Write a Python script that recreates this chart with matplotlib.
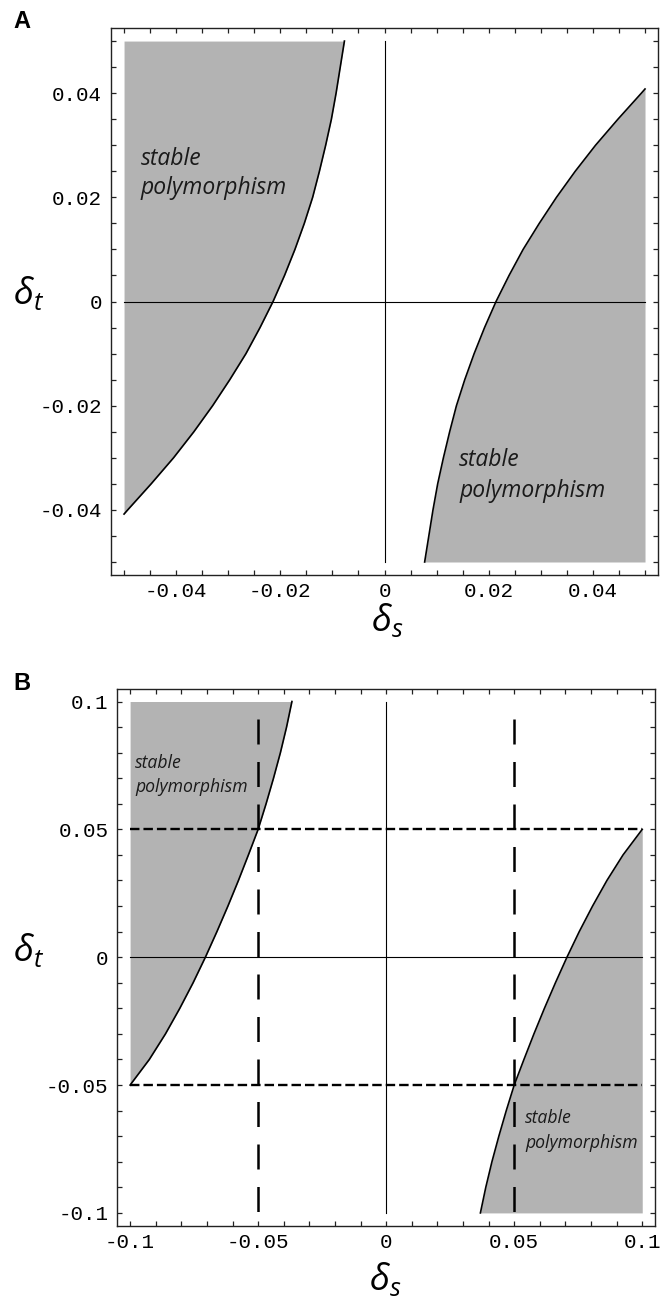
import matplotlib.pyplot as plt
import numpy as np

plt.rcParams['mathtext.fontset'] = 'custom'
plt.rcParams['mathtext.it'] = 'Open Sans:italic'
plt.rcParams['mathtext.rm'] = 'Open Sans'

# panel A: boundary of the stable region (left and right branch)
a_left_y = [-0.0408, -0.040, -0.035, -0.030, -0.025, -0.020, -0.015, -0.010, -0.005, 0.000,
            0.005, 0.010, 0.015, 0.020, 0.025, 0.030, 0.035, 0.040, 0.045, 0.050]
a_left_x = [-0.0500, -0.0493, -0.0448, -0.0405, -0.0366, -0.0330, -0.0297, -0.0266, -0.0239, -0.0214,
            -0.0192, -0.0172, -0.0154, -0.0138, -0.0125, -0.0113, -0.0102, -0.0093, -0.0085, -0.0077]
a_right_y = [-0.050, -0.045, -0.040, -0.035, -0.030, -0.025, -0.020, -0.015, -0.010, -0.005,
             0.000, 0.005, 0.010, 0.015, 0.020, 0.025, 0.030, 0.035, 0.040, 0.0408]
a_right_x = [0.0077, 0.0085, 0.0093, 0.0102, 0.0113, 0.0125, 0.0138, 0.0154, 0.0172, 0.0192,
             0.0214, 0.0239, 0.0266, 0.0297, 0.0330, 0.0366, 0.0405, 0.0448, 0.0493, 0.0500]

# panel B
b_left_y = [-0.05, -0.04, -0.03, -0.02, -0.01, 0.00, 0.01, 0.02, 0.03, 0.04, 0.05, 0.06, 0.07, 0.08, 0.09, 0.10]
b_left_x = [-0.1000, -0.0925, -0.0862, -0.0806, -0.0754, -0.0706, -0.0661, -0.0618, -0.0577, -0.0538,
            -0.0500, -0.0469, -0.0440, -0.0413, -0.0389, -0.0368]
b_right_y = [-0.10, -0.09, -0.08, -0.07, -0.06, -0.05, -0.04, -0.03, -0.02, -0.01, 0.00, 0.01, 0.02, 0.03, 0.04, 0.05]
b_right_x = [0.0368, 0.0389, 0.0413, 0.0440, 0.0469, 0.0500, 0.0538, 0.0577, 0.0618, 0.0661,
             0.0706, 0.0754, 0.0806, 0.0862, 0.0925, 0.1000]

a_ticks = [-0.04, -0.02, 0, 0.02, 0.04]
a_labels = ['-0.04', '-0.02', '0', '0.02', '0.04']
b_ticks = [-0.1, -0.05, 0, 0.05, 0.1]
b_labels = ['-0.1', '-0.05', '0', '0.05', '0.1']
b_dash = [-0.05, 0.05]

gray = '#b3b3b3'
mono = 'Liberation Mono'
note_font = dict(family='Open Sans', style='italic', color='#1a1a1a')


def style_axes(ax, lim, ticks, labels, minor):
    ax.set_xlim(-lim, lim)
    ax.set_ylim(-lim, lim)
    ax.set_xticks(ticks, labels, fontfamily=mono, fontsize=15)
    ax.set_yticks(ticks, labels, fontfamily=mono, fontsize=15)
    ax.xaxis.set_minor_locator(plt.MultipleLocator(minor))
    ax.yaxis.set_minor_locator(plt.MultipleLocator(minor))
    ax.tick_params(which='both', direction='in', length=3.5, width=0.9,
                   top=True, right=True, color='#222222')
    ax.tick_params(axis='y', pad=6.5)
    ax.tick_params(axis='x', pad=5)
    for sp in ax.spines.values():
        sp.set_linewidth(1.0)
        sp.set_color('#222222')


fig = plt.figure(figsize=(6.68, 12.98), dpi=100)

# ---------------- A ----------------
axA = fig.add_axes([0.1662, 0.5570, 0.8189, 0.4214])
axA.fill_betweenx(a_left_y, -0.05, a_left_x, color=gray, lw=0)
axA.fill_betweenx(a_right_y, a_right_x, 0.05, color=gray, lw=0)
axA.plot(a_left_x, a_left_y, color='black', lw=1.2)
axA.plot(a_right_x, a_right_y, color='black', lw=1.2)
axA.plot([-0.05, 0.05], [0, 0], color='black', lw=0.8)
axA.plot([0, 0], [-0.05, 0.05], color='black', lw=0.8)
style_axes(axA, 0.0525, a_ticks, a_labels, 0.005)
axA.text(-0.0468, 0.0262, 'stable', fontsize=16.5, **note_font)
axA.text(-0.0468, 0.0206, 'polymorphism', fontsize=16.5, **note_font)
axA.text(0.0143, -0.0315, 'stable', fontsize=16.5, **note_font)
axA.text(0.0143, -0.0375, 'polymorphism', fontsize=16.5, **note_font)
axA.set_xlabel(r'$\delta_s$', fontsize=26)
axA.set_ylabel(r'$\delta_t$', fontsize=26, rotation=0, ha='left', va='center')
axA.xaxis.set_label_coords(0.5046, -0.082)
axA.yaxis.set_label_coords(-0.179, 0.5155)
axA.xaxis.label.set_va('center')

# ---------------- B ----------------
axB = fig.add_axes([0.1756, 0.0557, 0.8050, 0.4137])
axB.fill_betweenx(b_left_y, -0.1, b_left_x, color=gray, lw=0)
axB.fill_betweenx(b_right_y, b_right_x, 0.1, color=gray, lw=0)
axB.plot(b_left_x, b_left_y, color='black', lw=1.2)
axB.plot(b_right_x, b_right_y, color='black', lw=1.2)
axB.plot([-0.1, 0.1], [0, 0], color='black', lw=0.8)
axB.plot([0, 0], [-0.1, 0.1], color='black', lw=0.8)
for v in b_dash:
    axB.plot([-0.1, 0.1], [v, v], color='black', lw=1.7, linestyle=(0, (4, 1.7)))
    axB.plot([v, v], [0.093, -0.1], color='black', lw=1.8, linestyle=(0, (10, 7)))
style_axes(axB, 0.105, b_ticks, b_labels, 0.01)
axB.text(-0.098, 0.0739, 'stable', fontsize=12.7, **note_font)
axB.text(-0.098, 0.0646, 'polymorphism', fontsize=12.7, **note_font)
axB.text(0.0543, -0.0648, 'stable', fontsize=12.7, **note_font)
axB.text(0.0543, -0.0746, 'polymorphism', fontsize=12.7, **note_font)
axB.set_xlabel(r'$\delta_s$', fontsize=26)
axB.set_ylabel(r'$\delta_t$', fontsize=26, rotation=0, ha='left', va='center')
axB.xaxis.set_label_coords(0.498, -0.099)
axB.yaxis.set_label_coords(-0.194, 0.513)
axB.xaxis.label.set_va('center')

fig.text(13 / 668, 1 - 10 / 1298, 'A', fontsize=17, fontweight='bold',
         family='Liberation Sans', ha='left', va='top')
fig.text(13 / 668, 1 - 672 / 1298, 'B', fontsize=17, fontweight='bold',
         family='Liberation Sans', ha='left', va='top')

fig.savefig('out.png', dpi=100)
